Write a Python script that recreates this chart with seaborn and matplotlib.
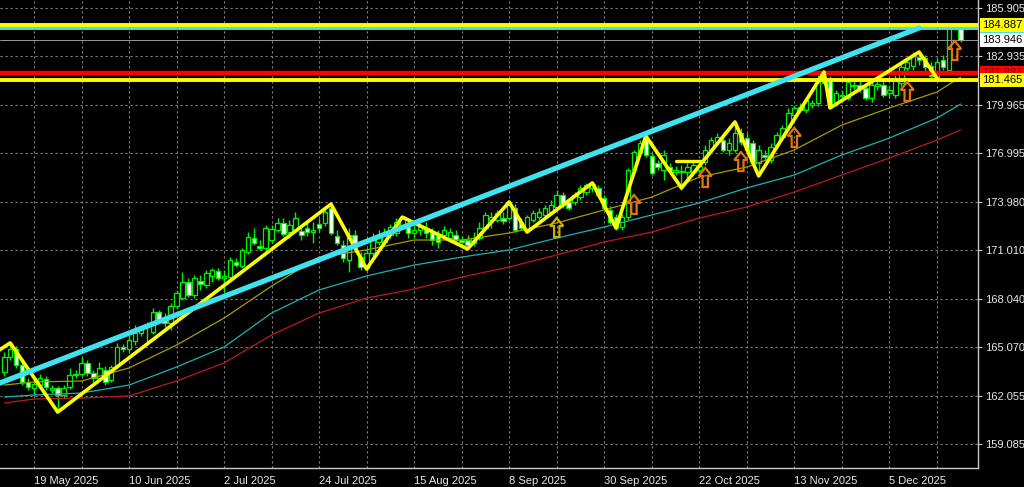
import matplotlib
matplotlib.use("Agg")
import matplotlib.pyplot as plt
import matplotlib.transforms as mtransforms
from matplotlib.patches import Rectangle, Polygon
import numpy as np
import pandas as pd
import seaborn as sns

# daily candles (12 May .. 23 Dec 2025)
opens = [
    163.52, 164.44, 164.94, 163.95, 162.91, 162.54, 162.72, 163.09, 162.42, 162.54,
    162.11, 162.60, 163.34, 163.40, 164.08, 163.46, 163.15, 163.64, 163.03, 163.89,
    165.06, 164.94, 165.43, 165.92, 166.35, 165.98, 167.21, 166.72, 166.54, 167.58,
    168.07, 169.06, 168.26, 169.12, 168.87, 169.43, 169.73, 169.30, 169.36, 170.29,
    170.04, 170.90, 171.76, 171.27, 171.15, 171.64, 172.26, 172.69, 172.13, 172.26,
    172.19, 172.38, 172.13, 172.62, 172.69, 173.61, 171.89, 171.33, 170.41, 171.95,
    170.59, 169.92, 170.84, 171.52, 171.52, 171.95, 172.07, 172.56, 172.44, 172.07,
    172.26, 172.38, 172.07, 171.95, 171.95, 171.76, 171.95, 171.64, 171.64, 171.46,
    171.76, 172.38, 172.87, 172.87, 172.99, 172.99, 173.61, 172.75, 172.26, 172.87,
    173.05, 173.18, 173.36, 173.67, 174.41, 173.98, 173.98, 174.28, 174.59, 174.84,
    174.84, 174.22, 173.49, 173.05, 172.44, 173.05, 175.95, 176.99, 177.91, 176.81,
    176.38, 175.95, 176.13, 175.82, 175.88, 175.82, 175.82, 175.95, 176.44, 177.18,
    177.67, 177.79, 177.18, 177.18, 178.22, 177.91, 177.61, 176.38, 176.87, 176.56,
    177.48, 177.97, 178.59, 179.33, 179.82, 179.64, 179.94, 180.07, 181.66, 181.48,
    180.13, 180.50, 180.37, 181.17, 181.17, 180.99, 180.37, 181.11, 181.17, 180.68,
    180.56, 181.30, 182.22, 182.34, 182.89, 182.83, 182.34, 181.66, 182.71, 182.10,
    184.68, 184.62,
]
highs = [
    164.75, 165.31, 165.12, 164.14, 163.15, 163.03, 163.40, 163.28, 162.72, 162.66,
    162.72, 163.77, 163.64, 164.44, 164.26, 163.64, 164.14, 163.89, 163.95, 165.31,
    165.24, 165.80, 166.41, 166.35, 166.60, 167.46, 167.34, 167.15, 167.77, 168.57,
    169.67, 169.30, 169.49, 169.49, 169.80, 169.92, 169.92, 169.80, 170.59, 170.53,
    171.15, 172.13, 172.38, 171.64, 172.56, 172.56, 172.99, 172.99, 172.87, 173.36,
    172.50, 172.75, 172.75, 172.99, 173.73, 173.92, 172.26, 171.64, 172.38, 172.26,
    170.90, 171.15, 172.07, 172.26, 172.38, 172.62, 172.99, 173.12, 172.87, 172.56,
    172.75, 172.75, 172.38, 172.26, 172.50, 172.38, 172.26, 171.89, 171.95, 172.13,
    172.75, 173.36, 173.36, 173.49, 173.36, 173.98, 173.85, 172.99, 173.18, 173.49,
    173.61, 173.79, 174.10, 174.72, 174.59, 174.22, 174.59, 175.02, 175.15, 175.21,
    175.02, 174.41, 173.73, 173.24, 173.24, 176.07, 177.18, 177.79, 178.10, 176.99,
    176.56, 177.18, 176.38, 176.19, 176.25, 176.38, 176.56, 176.38, 177.48, 177.97,
    178.22, 178.10, 177.91, 178.90, 178.53, 178.22, 177.79, 177.48, 177.18, 177.61,
    178.28, 178.71, 179.76, 179.94, 180.07, 180.37, 180.25, 181.79, 182.03, 181.73,
    180.87, 180.87, 181.48, 181.60, 181.48, 181.23, 181.48, 181.48, 181.48, 181.17,
    181.79, 182.59, 182.83, 183.20, 183.20, 183.02, 182.59, 182.83, 183.02, 184.86,
    184.99, 184.92,
]
lows = [
    163.28, 164.26, 163.77, 162.72, 162.42, 162.11, 162.54, 162.42, 162.23, 161.19,
    161.92, 162.48, 163.15, 163.28, 163.28, 162.91, 162.97, 162.72, 162.91, 163.77,
    164.75, 164.75, 165.18, 165.74, 165.31, 165.86, 166.60, 166.29, 166.11, 167.40,
    167.95, 168.13, 168.07, 168.57, 168.69, 169.06, 169.18, 168.44, 169.24, 169.98,
    169.92, 170.78, 171.33, 171.03, 170.90, 171.46, 172.13, 171.89, 171.76, 172.13,
    171.64, 171.89, 171.46, 172.13, 172.50, 171.95, 171.33, 170.29, 169.67, 170.90,
    169.80, 169.73, 170.66, 171.33, 171.27, 171.76, 171.89, 172.38, 171.76, 171.76,
    171.95, 171.76, 171.33, 171.15, 171.76, 171.52, 171.33, 171.39, 171.09, 171.27,
    171.64, 172.26, 172.38, 172.75, 172.62, 172.87, 172.13, 172.26, 172.13, 172.75,
    172.87, 172.99, 173.24, 173.49, 173.61, 173.49, 173.79, 174.10, 174.41, 174.59,
    174.22, 173.49, 172.62, 172.26, 172.26, 172.87, 175.82, 176.87, 176.74, 175.64,
    175.95, 175.33, 175.82, 175.64, 174.72, 175.33, 175.64, 175.82, 176.25, 177.05,
    177.48, 177.05, 176.87, 177.05, 177.48, 176.87, 176.25, 175.58, 176.56, 176.38,
    177.30, 177.79, 178.41, 179.14, 179.51, 179.45, 179.76, 179.88, 181.17, 179.76,
    179.88, 180.25, 180.25, 180.87, 180.74, 180.25, 180.13, 180.87, 180.43, 180.37,
    180.37, 181.11, 181.91, 182.10, 182.40, 181.79, 181.48, 181.48, 182.10, 181.97,
    184.56, 183.82,
]
closes = [
    164.44, 164.94, 163.95, 162.91, 162.60, 162.78, 163.15, 162.60, 162.54, 162.11,
    162.54, 163.34, 163.40, 164.08, 163.46, 163.15, 163.77, 162.91, 163.83, 165.06,
    164.94, 165.49, 165.92, 166.11, 166.29, 167.21, 166.72, 166.54, 167.58, 168.38,
    169.06, 168.26, 169.30, 168.93, 169.61, 169.80, 169.30, 169.43, 170.41, 170.10,
    171.03, 171.82, 171.46, 171.15, 172.38, 172.32, 172.69, 172.01, 172.56, 172.99,
    171.95, 172.13, 172.26, 172.38, 173.36, 172.07, 171.46, 170.53, 171.95, 171.15,
    169.98, 170.84, 171.76, 171.95, 172.07, 172.44, 172.75, 172.99, 172.07, 172.26,
    172.44, 172.07, 171.64, 171.52, 172.26, 172.13, 171.64, 171.52, 171.33, 171.76,
    172.38, 173.18, 173.05, 173.30, 172.81, 173.79, 172.26, 172.38, 173.05, 173.30,
    173.36, 173.61, 173.79, 174.41, 173.79, 173.61, 174.41, 174.84, 175.02, 175.08,
    174.41, 173.61, 172.75, 172.38, 173.05, 175.95, 177.05, 177.61, 176.87, 175.76,
    176.13, 176.87, 175.95, 175.95, 175.82, 176.13, 176.25, 176.19, 177.18, 177.79,
    177.97, 177.18, 177.61, 178.22, 177.67, 177.18, 176.44, 177.18, 176.74, 177.36,
    178.10, 178.53, 179.45, 179.76, 179.64, 180.25, 180.07, 181.36, 181.30, 179.94,
    180.68, 180.56, 181.36, 181.11, 180.99, 180.37, 181.17, 181.23, 180.56, 180.87,
    181.48, 182.28, 182.59, 182.96, 182.71, 182.28, 181.73, 182.59, 182.28, 184.68,
    184.86, 183.946,
]

# moving averages read at the grid columns (bar index)
ma_idx = [0, 5, 13, 21, 29, 37, 45, 53, 61, 69, 77, 85, 93, 101, 109, 117, 125, 133, 141, 149, 157, 161]
ma_fast = [162.72, 162.91, 162.97, 163.77, 165.18, 166.84, 168.81, 170.59, 171.03, 171.64, 171.64,
           172.07, 172.69, 173.49, 174.28, 175.51, 176.13, 177.18, 178.71, 179.76, 180.74, 181.66]
ma_mid = [161.98, 162.11, 162.23, 162.72, 163.83, 165.06, 167.15, 168.57, 169.43, 170.10, 170.59,
          171.03, 171.76, 172.44, 173.18, 173.92, 174.84, 175.64, 176.87, 177.91, 179.14, 180.00]
ma_slow = [161.62, 161.86, 161.92, 162.05, 162.97, 164.08, 165.80, 167.15, 168.07, 168.63, 169.36,
           169.98, 170.72, 171.52, 172.13, 172.99, 173.67, 174.59, 175.64, 176.68, 177.79, 178.41]

# zigzag swings
zigzag_idx = [-2, 1, 9, 55, 61, 67, 78, 85, 88, 99, 103, 108, 114, 123, 127, 138, 139, 154, 157]
zigzag_px = [164.60, 165.31, 161.06, 173.85, 169.86, 173.05, 171.09, 173.98, 172.13, 175.15,
             172.38, 178.04, 174.84, 178.90, 175.58, 181.97, 179.76, 183.20, 181.60]

# rising trend line and short flat segment
trend_idx = [-1, 154]
trend_px = [162.81, 184.68]
flat_idx = [113, 117.6]
flat_px = [176.50, 176.50]

# horizontal levels
level_px = [184.675, 184.887, 181.881, 181.465]
level_txt = ["184.675", "184.887", "181.881", "181.465"]
level_col = ["#3fe3f0", "#ffff00", "#ff0000", "#ffff00"]
level_txtcol = ["#003040", "black", "#800000", "black"]
bid_px = 183.946

# up arrows under the lows
arrow_idx = [93, 106, 118, 124, 133, 152, 160]
arrow_tip = [172.99, 174.41, 176.07, 177.05, 178.53, 181.36, 183.88]
arrow_col = ["#c8b400", "#e2750c", "#e2750c", "#e2750c", "#e2750c", "#e2750c", "#e2750c"]

ytick_vals = [185.905, 182.935, 179.965, 176.995, 173.980, 171.010, 168.040, 165.070, 162.055, 159.085]
xtick_dates = ["2025-05-19", "2025-06-10", "2025-07-02", "2025-07-24", "2025-08-15",
               "2025-09-08", "2025-09-30", "2025-10-22", "2025-11-13", "2025-12-05"]

GREEN = "#00f000"
GRID = "#808080"
AXC = "#c8c8c8"

sns.set_style("dark", {"axes.facecolor": "black", "figure.facecolor": "black"})
plt.rcParams["font.family"] = ["Liberation Sans", "DejaVu Sans"]

fig = plt.figure(figsize=(10.24, 4.87), dpi=100)
ax = fig.add_axes([0, 19 / 487, 978 / 1024, 468 / 487])
ax.set_facecolor("black")

n = len(closes)
dates = pd.bdate_range("2025-05-12", periods=n)
x = np.arange(n)

# dashed grid
for p in ytick_vals:
    ax.axhline(p, color=GRID, lw=0.8, ls=(0, (2, 2.5)), zorder=0)
for i in range(5, 164, 8):
    ax.axvline(i, color=GRID, lw=0.8, ls=(0, (2, 2.5)), zorder=0)

# candles
ax.vlines(x, lows, highs, color=GREEN, lw=1.0, zorder=2)
for i in range(n):
    o, c = opens[i], closes[i]
    face = "black" if c >= o else "white"
    ax.add_patch(Rectangle((i - 0.38, min(o, c)), 0.76, max(abs(c - o), 0.01),
                           facecolor=face, edgecolor=GREEN, lw=0.9, zorder=2.5))

# moving averages
sns.lineplot(x=ma_idx, y=ma_slow, ax=ax, color="#b81c1c", lw=0.9, zorder=3)
sns.lineplot(x=ma_idx, y=ma_mid, ax=ax, color="#1fb0b0", lw=0.9, zorder=3)
sns.lineplot(x=ma_idx, y=ma_fast, ax=ax, color="#a89a00", lw=0.9, zorder=3)

# levels
ax.axhline(bid_px, color="#9a9a9a", lw=0.7, zorder=3)
for p, col in zip(level_px, level_col):
    ax.axhline(p, color=col, lw=3.2 if col == "#ff0000" else 2.8, zorder=4)

# zigzag, flat segment, trend line
sns.lineplot(x=zigzag_idx, y=zigzag_px, ax=ax, sort=False, color="#ffff00", lw=2.6, zorder=5)
sns.lineplot(x=flat_idx, y=flat_px, ax=ax, color="#ffff00", lw=2.4, zorder=5)
sns.lineplot(x=trend_idx, y=trend_px, ax=ax, color="#3fe3f0", lw=3.8, zorder=6)

# arrows
for ai, tip, col in zip(arrow_idx, arrow_tip, arrow_col):
    pts = [(ai, tip), (ai + 1.1, tip - 0.49), (ai + 0.45, tip - 0.49), (ai + 0.45, tip - 1.17),
           (ai - 0.45, tip - 1.17), (ai - 0.45, tip - 0.49), (ai - 1.1, tip - 0.49)]
    ax.add_patch(Polygon(pts, closed=True, fill=False, edgecolor=col, lw=1.6, zorder=7))

ax.set_xlim(-0.72, 163.92)
ax.set_ylim(157.62, 186.40)

# price axis on the right
ax.yaxis.tick_right()
ax.set_yticks(ytick_vals)
ax.set_yticklabels([f"{v:.3f}" for v in ytick_vals])
ax.tick_params(axis="y", colors=AXC, labelcolor="#e8e8e8", length=3, width=0.8, pad=2, labelsize=8)

xt = [dates.get_loc(pd.Timestamp(d)) for d in xtick_dates]
ax.set_xticks(xt)
ax.set_xticklabels([pd.Timestamp(d).strftime("%-d %b %Y") for d in xtick_dates])
ax.tick_params(axis="x", colors=AXC, labelcolor="#e8e8e8", length=4, width=0.8, pad=2, labelsize=8)
for lbl in ax.get_xticklabels():
    lbl.set_ha("left")
ax.set_xlabel("")
ax.set_ylabel("")

for side in ["left", "top"]:
    ax.spines[side].set_visible(False)
for side in ["right", "bottom"]:
    ax.spines[side].set_visible(True)
    ax.spines[side].set_color(AXC)
    ax.spines[side].set_linewidth(1)

# price tags on the axis (later tags sit on top of earlier ones, as in the terminal)
trans = mtransforms.blended_transform_factory(ax.transAxes, ax.transData)
tags = list(zip(level_px, level_txt, level_col, level_txtcol))
tags.insert(2, (bid_px, "183.946", "white", "black"))
for k, (p, txt, fc, tc) in enumerate(tags):
    ax.text(1.004, p, txt, transform=trans, ha="left", va="center", fontsize=8, color=tc,
            bbox=dict(boxstyle="square,pad=0.18", fc=fc, ec="none"), clip_on=False, zorder=10 + k)

fig.savefig("out.png", dpi=100, facecolor="black")
